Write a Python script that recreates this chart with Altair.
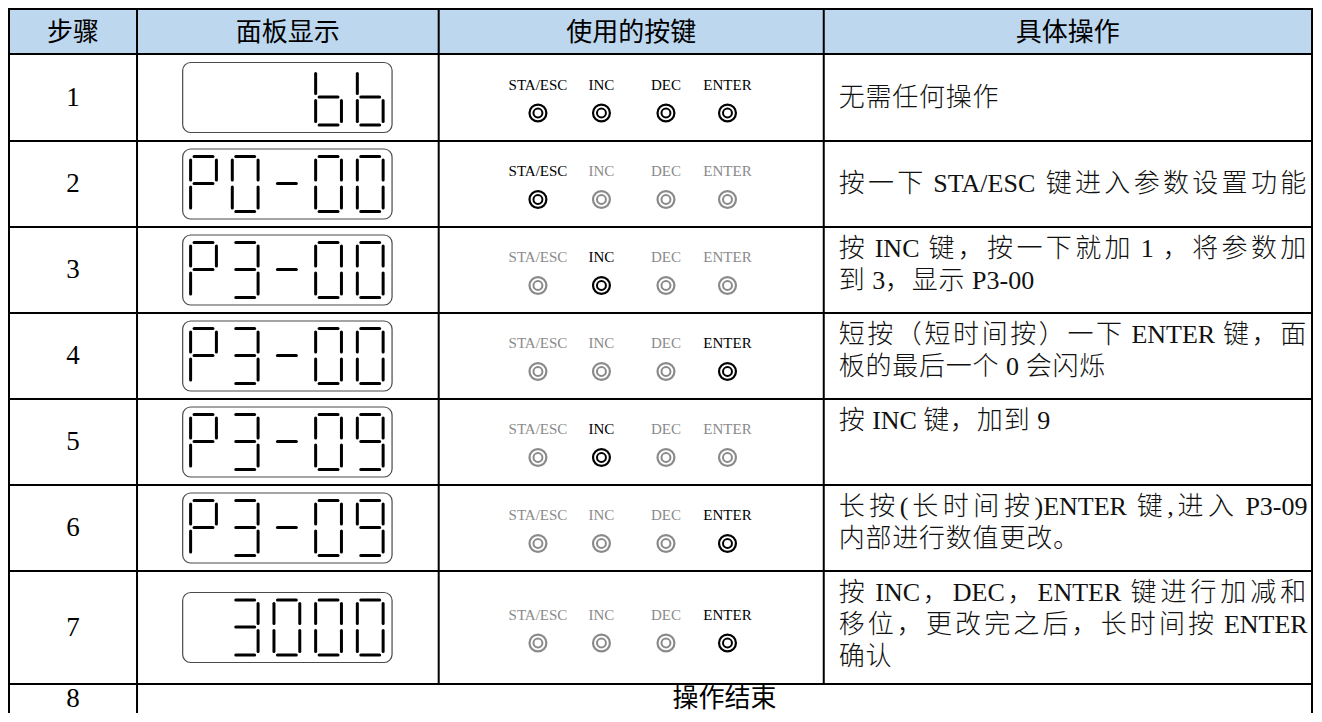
import altair as alt
import pandas as pd

# ---------------- data ----------------
HEADERS = ["步骤", "面板显示", "使用的按键", "具体操作"]
STEPS = ["1", "2", "3", "4", "5", "6", "7", "8"]
DISPLAYS = ["   bb", "P0-00", "P3-00", "P3-00", "P3-09", "P3-09", " 3000"]
KEY_NAMES = ["STA/ESC", "INC", "DEC", "ENTER"]
KEYS_ACTIVE = [
    [1, 1, 1, 1],
    [1, 0, 0, 0],
    [0, 1, 0, 0],
    [0, 0, 0, 1],
    [0, 1, 0, 0],
    [0, 0, 0, 1],
    [0, 0, 0, 1],
]
OPERATIONS = [
    ["无需任何操作"],
    ["按一下 STA/ESC 键进入参数设置功能"],
    ["按 INC 键，按一下就加 1 ，将参数加", "到 3，显示 P3-00"],
    ["短按（短时间按）一下 ENTER 键，面", "板的最后一个 0 会闪烁"],
    ["按 INC 键，加到 9"],
    ["长按(长时间按)ENTER 键,进入 P3-09", "内部进行数值更改。"],
    ["按 INC，DEC，ENTER 键进行加减和", "移位，更改完之后，长时间按 ENTER", "确认"],
]
FINAL_TEXT = "操作结束"
SEGMENT_MAP = {"0": "abcdef", "P": "abefg", "-": "g", "3": "abcdg",
               "9": "abcdfg", "b": "cdefg", " ": ""}

# ---------------- layout ----------------
COL_X = [5, 134, 438, 826, 1318]
ROW_Y = [5, 50, 137, 223, 309, 395, 481, 567, 680, 730]
LAST_ROW_TEXT_Y = 695
HEADER_FILL = "#BDD7EE"
DIGIT_LEFT = [188, 230, 272, 314, 356]
DIGIT_W = 26
DIGIT_HALF_H = 27.5
SEG_GAP = 3.5
BOX_X = (180, 391)
BOX_HALF_H = 35
KEY_X = [538, 602, 667, 729]
TEXT_LEFT, TEXT_RIGHT = 841, 1313
PITCH = 27          # advance used for layout
FS_BODY = 26        # rendered size
LINE_GAP = 32
TOP_FIRST = 22
VALIGN = ["middle", "middle", "top", "top", "top", "top", "top"]
JUSTIFY_LAST = [False, True, False, False, False, False, False]

W, H = 1305, 705
XS = alt.Scale(domain=[5, 1318], range=[1, 1304], nice=False, zero=False)
YS = alt.Scale(domain=[4, 709], range=[0, 705], nice=False, zero=False)


def X(f):
    return alt.X(f, type="quantitative", scale=XS, axis=None)


def Y(f):
    return alt.Y(f, type="quantitative", scale=YS, axis=None)


def row_center(i):
    return (ROW_Y[i + 1] + ROW_Y[i + 2]) / 2


# ---------- grid ----------
header_bg = pd.DataFrame([{"x": COL_X[0], "x2": COL_X[-1], "y": ROW_Y[0], "y2": ROW_Y[1]}])
lines = []
for yv in ROW_Y[:-1]:
    lines.append({"x": COL_X[0], "x2": COL_X[-1], "y": yv, "y2": yv})
for xv in [COL_X[0], COL_X[1], COL_X[-1]]:
    lines.append({"x": xv, "x2": xv, "y": ROW_Y[0], "y2": ROW_Y[-1]})
for xv in [COL_X[2], COL_X[3]]:
    lines.append({"x": xv, "x2": xv, "y": ROW_Y[0], "y2": ROW_Y[-2]})
lines_df = pd.DataFrame(lines)

# ---------- headers & steps ----------
hdr_df = pd.DataFrame([{"x": (COL_X[i] + COL_X[i + 1]) / 2, "y": (ROW_Y[0] + ROW_Y[1]) / 2 + 1,
                        "t": h} for i, h in enumerate(HEADERS)])
steps_rows = []
for i, s in enumerate(STEPS):
    c = LAST_ROW_TEXT_Y if i == len(STEPS) - 1 else row_center(i)
    steps_rows.append({"x": (COL_X[0] + COL_X[1]) / 2, "y": c, "t": s})
steps_df = pd.DataFrame(steps_rows)
final_df = pd.DataFrame([{"x": (COL_X[1] + COL_X[-1]) / 2, "y": LAST_ROW_TEXT_Y, "t": FINAL_TEXT}])

# ---------- 7-seg displays ----------
boxes, segs = [], []
for i, disp in enumerate(DISPLAYS):
    c = row_center(i)
    boxes.append({"x": BOX_X[0], "x2": BOX_X[1], "y": c - BOX_HALF_H, "y2": c + BOX_HALF_H})
    T, M, B = c - DIGIT_HALF_H, c - 0.5, c + DIGIT_HALF_H
    for pos, ch in enumerate(disp):
        L = DIGIT_LEFT[pos]
        R = L + DIGIT_W
        g = SEG_GAP
        geom = {
            "a": (L + g, T, R - g, T),
            "b": (R, T + g, R, M - g),
            "c": (R, M + g, R, B - g),
            "d": (L + g, B, R - g, B),
            "e": (L, M + g, L, B - g),
            "f": (L, T + g, L, M - g),
            "g": (L + g, M, R - g, M),
        }
        for s in SEGMENT_MAP[ch]:
            x1, y1, x2, y2 = geom[s]
            segs.append({"x": x1, "y": y1, "x2": x2, "y2": y2})
boxes_df = pd.DataFrame(boxes)
segs_df = pd.DataFrame(segs)

# ---------- keys ----------
klabels, kcircles = [], []
for i, act in enumerate(KEYS_ACTIVE):
    c = row_center(i)
    for k, name in enumerate(KEY_NAMES):
        st = "on" if act[k] else "off"
        klabels.append({"x": KEY_X[k], "y": c - 13, "t": name, "s": st})
        kcircles.append({"x": KEY_X[k], "y": c + 15.5, "s": st})
klabels_df = pd.DataFrame(klabels)
kcircles_df = pd.DataFrame(kcircles)

# ---------- operation text (token layout with justification) ----------
TIMES_UP = {"A": .722, "B": .667, "C": .667, "D": .722, "E": .611, "F": .556, "G": .722,
            "H": .722, "I": .333, "J": .389, "K": .722, "L": .611, "M": .889, "N": .722,
            "O": .722, "P": .556, "Q": .722, "R": .667, "S": .556, "T": .611, "U": .722,
            "V": .722, "W": .944, "X": .722, "Y": .722, "Z": .611}


def char_w(ch):
    if ord(ch) >= 0x2E80:
        return 1.0
    if ch in TIMES_UP:
        return TIMES_UP[ch] * FS_BODY / PITCH
    if ch.isdigit():
        return 0.5 * FS_BODY / PITCH
    return {"-": .333, "/": .278, "(": .333, ")": .333, ",": .25, ".": .25}.get(ch, .444) * FS_BODY / PITCH


def tokenize(line):
    toks = []
    gap = 0.0
    buf, bufgap = "", 0.0
    for ch in line:
        if ch == " ":
            if buf:
                toks.append([buf, sum(char_w(c) for c in buf), bufgap])
                buf = ""
            gap += 0.25
        elif ord(ch) >= 0x2E80:
            if buf:
                toks.append([buf, sum(char_w(c) for c in buf), bufgap])
                buf = ""
            toks.append([ch, 1.0, gap])
            gap = 0.0
        else:
            if not buf:
                bufgap = gap
                gap = 0.0
            buf += ch
    if buf:
        toks.append([buf, sum(char_w(c) for c in buf), bufgap])
    return toks


ops = []
for i, op_lines in enumerate(OPERATIONS):
    n = len(op_lines)
    if VALIGN[i] == "middle":
        y0 = row_center(i) - (n - 1) * LINE_GAP / 2
    else:
        y0 = ROW_Y[i + 1] + TOP_FIRST
    for j, line in enumerate(op_lines):
        toks = tokenize(line)
        justify = (j < n - 1) or JUSTIFY_LAST[i]
        natural = sum((t[1] + t[2]) for t in toks) * PITCH
        extra = 0.0
        if justify and len(toks) > 1:
            extra = (TEXT_RIGHT - TEXT_LEFT - natural) / (len(toks) - 1)
        xpos = TEXT_LEFT
        for k, (txt, w, gp) in enumerate(toks):
            xpos += gp * PITCH + (extra if k > 0 else 0)
            ops.append({"x": xpos, "y": y0 + j * LINE_GAP, "t": txt})
            xpos += w * PITCH
ops_df = pd.DataFrame(ops)

# ---------------- chart ----------------
STATE_SCALE = alt.Scale(domain=["on", "off"], range=["#000000", "#8a8a8a"])

bg = alt.Chart(header_bg).mark_rect(color=HEADER_FILL).encode(
    x=X("x"), x2="x2", y=Y("y"), y2="y2")

box_layer = alt.Chart(boxes_df).mark_rect(
    fill="white", stroke="#4a4a4a", strokeWidth=1.2, cornerRadius=8).encode(
    x=X("x"), x2="x2", y=Y("y"), y2="y2")

seg_layer = alt.Chart(segs_df).mark_rule(
    color="black", strokeWidth=3, strokeCap="round").encode(
    x=X("x"), x2="x2", y=Y("y"), y2="y2")

grid = alt.Chart(lines_df).mark_rule(
    color="black", strokeWidth=2, strokeCap="square").encode(
    x=X("x"), x2="x2", y=Y("y"), y2="y2")

hdr = alt.Chart(hdr_df).mark_text(
    font="Noto Sans CJK SC", fontSize=26, align="center", baseline="middle", color="black").encode(
    x=X("x"), y=Y("y"), text="t:N")

steps = alt.Chart(steps_df).mark_text(
    font="Liberation Serif", fontSize=27, align="center", baseline="middle", color="black").encode(
    x=X("x"), y=Y("y"), text="t:N")

final = alt.Chart(final_df).mark_text(
    font="Noto Sans CJK SC", fontSize=26, align="center", baseline="middle", color="black").encode(
    x=X("x"), y=Y("y"), text="t:N")

key_lbl = alt.Chart(klabels_df).mark_text(
    font="Liberation Serif", fontSize=15, align="center", baseline="middle").encode(
    x=X("x"), y=Y("y"), text="t:N",
    color=alt.Color("s:N", scale=STATE_SCALE, legend=None))

outer = alt.Chart(kcircles_df).mark_point(
    shape="circle", filled=False, size=285, strokeWidth=2.2, opacity=1).encode(
    x=X("x"), y=Y("y"),
    stroke=alt.Stroke("s:N", scale=STATE_SCALE, legend=None))

inner = alt.Chart(kcircles_df).mark_point(
    shape="circle", filled=False, size=80, strokeWidth=2.0, opacity=1).encode(
    x=X("x"), y=Y("y"),
    stroke=alt.Stroke("s:N", scale=STATE_SCALE, legend=None))

ops_layer = alt.Chart(ops_df).mark_text(
    font="'Liberation Serif', 'Noto Sans CJK SC'", fontSize=FS_BODY, fontWeight=300,
    align="left", baseline="middle", color="#111111").encode(
    x=X("x"), y=Y("y"), text="t:N")

chart = alt.layer(
    bg, box_layer, seg_layer, grid, hdr, steps, final, key_lbl, outer, inner, ops_layer
).properties(
    width=W, height=H, padding=0, autosize="none", background="white"
).configure_view(stroke=None)

chart.save("out.html", embed_options={"renderer": "svg", "actions": False})
